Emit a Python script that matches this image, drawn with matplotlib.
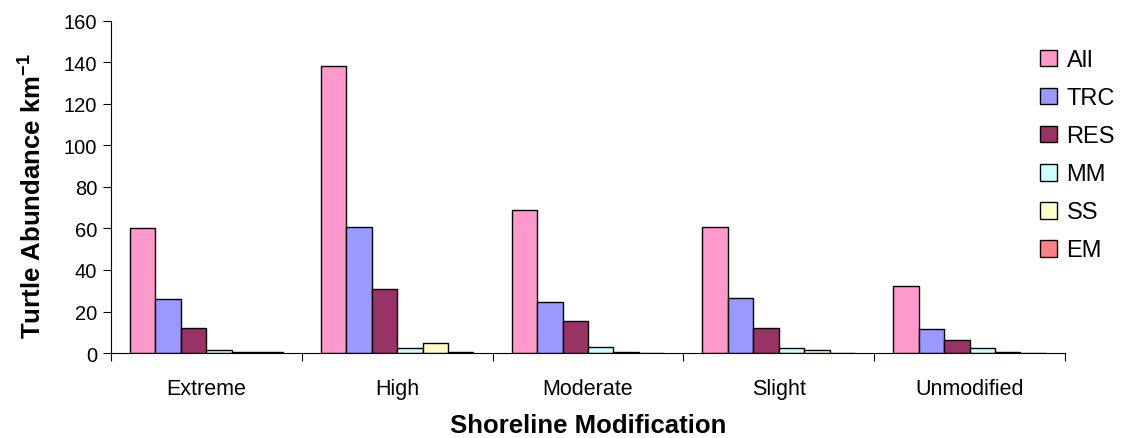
import numpy as np
import matplotlib.pyplot as plt

plt.rcParams['font.family'] = ['Liberation Sans', 'DejaVu Sans']
plt.rcParams['mathtext.fontset'] = 'custom'
plt.rcParams['mathtext.rm'] = 'Liberation Sans'
plt.rcParams['mathtext.bf'] = 'Liberation Sans:bold'

categories = ['Extreme', 'High', 'Moderate', 'Slight', 'Unmodified']
series = ['All', 'TRC', 'RES', 'MM', 'SS', 'EM']
values = {
    'All': [60, 138.5, 69, 60.5, 32.5],
    'TRC': [26, 60.5, 24.5, 26.5, 11.5],
    'RES': [12, 31, 15.5, 12, 6.5],
    'MM': [1.5, 2.2, 3, 2.2, 2.2],
    'SS': [0.5, 5, 0.5, 1.5, 0.5],
    'EM': [0.5, 0.5, 0, 0, 0],
}
colors = ['#FF99CC', '#9999FF', '#993366', '#CCFFFF', '#FFFFCC', '#FF8080']

fig = plt.figure(figsize=(11.31, 4.39), dpi=100)
ax = fig.add_axes([0.0981, 0.1936, 0.8435, 0.7564])

w = 1 / 7.5
x = np.arange(len(categories))
for i, s in enumerate(series):
    ax.bar(x + 0.75 * w + i * w, values[s], width=w, align='edge',
           color=colors[i], edgecolor='black', linewidth=1, label=s)

ax.set_xlim(0, 5)
ax.set_ylim(0, 160)
ax.set_yticks(range(0, 161, 20))
ax.set_xticks(range(6))
ax.set_xticklabels([])
ax.set_xticks(x + 0.5, minor=True)
ax.set_xticklabels(categories, minor=True)
ax.tick_params(axis='x', which='minor', length=0, pad=18, labelsize=15.5)
ax.tick_params(axis='x', which='major', length=6, direction='out')
ax.tick_params(axis='y', length=6, direction='out', labelsize=14.5, pad=4)
for side in ['top', 'right']:
    ax.spines[side].set_visible(False)

# axis titles placed in figure coords
fig.text(32 / 1131, 1 - 196 / 439, r'Turtle Abundance km$^{\mathbf{-1}}$',
         rotation=90, ha='center', va='center', fontsize=18.5,
         fontweight='bold')
fig.text(588 / 1131, 1 - 426 / 439, 'Shoreline Modification',
         ha='center', va='center', fontsize=18.5, fontweight='bold')

ax.legend(loc='upper left', bbox_to_anchor=(0.974, 0.915), frameon=False,
          fontsize=17, handlelength=0.72, handleheight=0.72,
          handletextpad=0.4, labelspacing=0.68, borderaxespad=0,
          borderpad=0)

fig.savefig('out.png', dpi=100)
